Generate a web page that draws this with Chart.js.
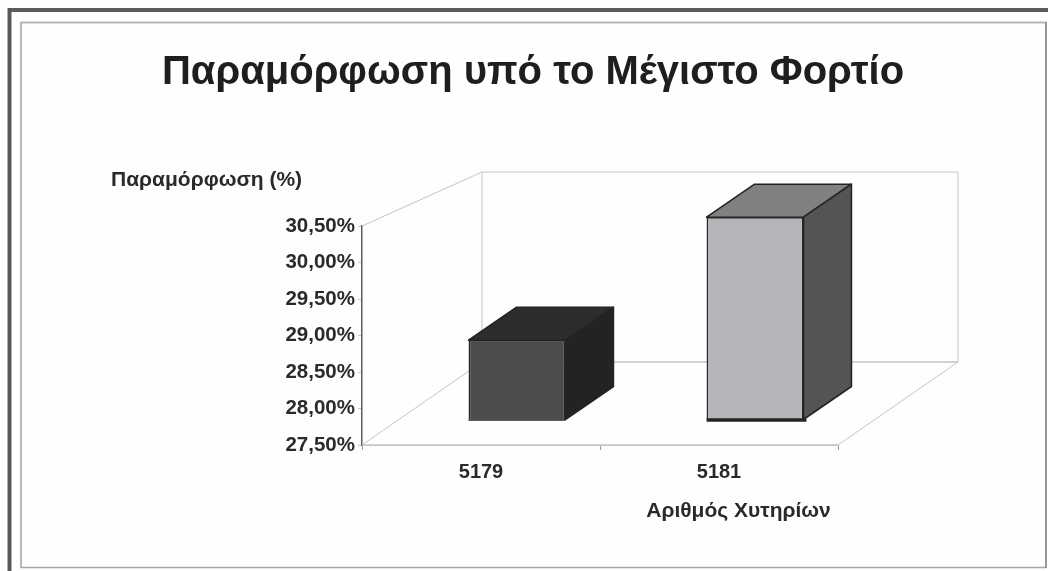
<!DOCTYPE html>
<html lang="el">
<head>
<meta charset="utf-8">
<title>Παραμόρφωση υπό το Μέγιστο Φορτίο</title>
<script src="https://cdn.jsdelivr.net/npm/chart.js@4/dist/chart.umd.min.js"></script>
<style>
  html, body { margin: 0; padding: 0; background: #fefefe; }
  #wrap { width: 1048px; height: 571px; }
  canvas { display: block; }
</style>
</head>
<body>
<div id="wrap"><canvas id="chart" width="1048" height="571"></canvas></div>
<script>
// Chart values
const categories = ['5179', '5181'];
const deformation = [28.64, 30.40];
const axisMin = 27.5;
const axisMax = 30.5;
const tickStep = 0.5;

// Text
const chartTitle = 'Παραμόρφωση υπό το Μέγιστο Φορτίο';
const valueAxisTitle = 'Παραμόρφωση (%)';
const categoryAxisTitle = 'Αριθμός Χυτηρίων';

// Face colours for each bar
const frontColors = ['#4c4c4e', '#b6b6ba'];
const topColors = ['#2d2d2d', '#808082'];
const sideColors = ['#232321', '#545456'];
const baseEdgeWidths = [1.6, 3.5];
const baseEdgeOverhang = [0, 3];
const edgeColor = '#242424';
const wallLine = '#c4c4c8';
const textColor = '#2a2a2a';

// Oblique projection of the 3D box
const wallDepth = { dx: 120, dy: -83, topDy: -54 };
const barPlane = { dx: 36, dy: -25, yScale: 0.958 };
const barDepth = { dx: 48, dy: -33 };

function poly(ctx, pts, fill) {
  ctx.beginPath();
  pts.forEach((p, i) => (i ? ctx.lineTo(p[0], p[1]) : ctx.moveTo(p[0], p[1])));
  ctx.closePath();
  if (fill) { ctx.fillStyle = fill; ctx.fill(); }
  ctx.lineWidth = 1.6;
  ctx.strokeStyle = edgeColor;
  ctx.lineJoin = 'round';
  ctx.stroke();
}

function line(ctx, x1, y1, x2, y2, color, width) {
  ctx.beginPath();
  ctx.moveTo(x1, y1);
  ctx.lineTo(x2, y2);
  ctx.strokeStyle = color;
  ctx.lineWidth = width;
  ctx.stroke();
}

// Page frame and the two axis captions
const framePlugin = {
  id: 'frame',
  beforeDraw(chart) {
    const c = chart.ctx;
    c.save();
    line(c, 8, 10, 1048, 10, '#5a5c5c', 4);
    line(c, 9.5, 8, 9.5, 571, '#55585a', 4);
    line(c, 21, 22.5, 1046, 22.5, '#b4b8b8', 2);
    line(c, 21, 22, 21, 568, '#a0a2a2', 1.5);
    line(c, 21, 567.5, 1046, 567.5, '#a4a6a6', 1.5);
    line(c, 1046, 22, 1046, 568, '#94989a', 2);
    c.restore();
  },
  afterDraw(chart) {
    const c = chart.ctx;
    c.save();
    c.fillStyle = textColor;
    c.font = 'bold 21px "Liberation Sans"';
    c.textBaseline = 'middle';
    c.textAlign = 'left';
    c.fillText(valueAxisTitle, 111, 180);
    c.textAlign = 'center';
    c.fillText(categoryAxisTitle, 738.5, 511);
    c.restore();
  }
};

// Back wall, floor and side wall outlines behind the bars
const wallsPlugin = {
  id: 'walls',
  beforeDatasetsDraw(chart) {
    const c = chart.ctx;
    const { left, right, top, bottom } = chart.chartArea;
    const bx = left + wallDepth.dx;
    const brx = right + wallDepth.dx;
    const by = bottom + wallDepth.dy;
    const ty = top + wallDepth.topDy;
    c.save();
    line(c, left, top, bx, ty, wallLine, 1);
    line(c, bx, ty, brx, ty, wallLine, 1);
    line(c, bx, ty, bx, by, wallLine, 1);
    line(c, brx, ty, brx, by, wallLine, 1);
    line(c, bx, by, brx, by, wallLine, 1.4);
    line(c, left, bottom, bx, by, wallLine, 1);
    line(c, right, bottom, brx, by, wallLine, 1);
    line(c, left, bottom, right, bottom, wallLine, 1.4);
    c.restore();
  }
};

// Places each bar on its depth plane and adds the top and side faces
const boxPlugin = {
  id: 'box',
  beforeDatasetDraw(chart, args) {
    const c = chart.ctx;
    const base = chart.scales.y.getPixelForValue(axisMin);
    const project = v => base + barPlane.dy - (base - v) * barPlane.yScale;
    args.meta.data.forEach((bar, i) => {
      const hw = bar.width / 2;
      const x1 = bar.x - hw + barPlane.dx;
      const x2 = bar.x + hw + barPlane.dx;
      const t = project(bar.y);
      const b = project(bar.base);
      const d = barDepth;
      poly(c, [[x1, t], [x2, t], [x2 + d.dx, t + d.dy], [x1 + d.dx, t + d.dy]], topColors[i]);
      poly(c, [[x2, t], [x2 + d.dx, t + d.dy], [x2 + d.dx, b + d.dy], [x2, b]], sideColors[i]);
    });
    c.save();
    c.translate(barPlane.dx, base + barPlane.dy);
    c.scale(1, barPlane.yScale);
    c.translate(0, -base);
  },
  afterDatasetDraw(chart, args) {
    const c = chart.ctx;
    c.restore();
    // Base edge along the foot of each bar
    const base = chart.scales.y.getPixelForValue(axisMin) + barPlane.dy;
    args.meta.data.forEach((bar, i) => {
      const hw = bar.width / 2;
      line(c, bar.x - hw + barPlane.dx, base, bar.x + hw + barPlane.dx + baseEdgeOverhang[i], base, edgeColor, baseEdgeWidths[i]);
    });
  }
};

new Chart(document.getElementById('chart'), {
  type: 'bar',
  data: {
    labels: categories,
    datasets: [{
      data: deformation,
      base: axisMin,
      backgroundColor: frontColors,
      borderColor: edgeColor,
      borderWidth: 1.6,
      barPercentage: 0.407,
      categoryPercentage: 1,
      clip: false
    }]
  },
  plugins: [framePlugin, wallsPlugin, boxPlugin],
  options: {
    responsive: false,
    animation: false,
    layout: { padding: { left: 18, right: 0, top: 0, bottom: 0 } },
    plugins: {
      legend: { display: false },
      tooltip: { enabled: false },
      title: {
        display: true,
        text: chartTitle,
        color: '#1e1e1e',
        font: { family: '"Liberation Sans"', size: 40, weight: 'bold', lineHeight: 1.2 },
        padding: { top: 49, bottom: 129 }
      }
    },
    scales: {
      x: {
        grid: { display: true, drawOnChartArea: false, drawTicks: true, tickLength: 5, color: '#9c9ca0' },
        border: { color: wallLine, width: 1 },
        ticks: {
          color: textColor,
          font: { family: '"Liberation Sans"', size: 20, weight: 'bold' },
          padding: 10,
          maxRotation: 0
        },
        afterFit(scale) { scale.height = 126; }
      },
      y: {
        min: axisMin,
        max: axisMax,
        grid: { display: true, drawOnChartArea: false, drawTicks: true, tickLength: 4, color: '#c4c4c8' },
        border: { color: '#5c5c60', width: 1.5 },
        ticks: {
          stepSize: tickStep,
          color: textColor,
          padding: 3,
          font: { family: '"Liberation Sans"', size: 20.5, weight: 'bold' },
          callback: v => v.toFixed(2).replace('.', ',') + '%'
        },
        afterFit(scale) { scale.width = 344; }
      },
      // Reserves the empty band to the right of the plot
      spacer: {
        position: 'right',
        display: true,
        grid: { display: false },
        border: { display: false },
        ticks: { display: false },
        afterFit(scale) { scale.width = 210; }
      }
    }
  }
});
</script>
</body>
</html>
